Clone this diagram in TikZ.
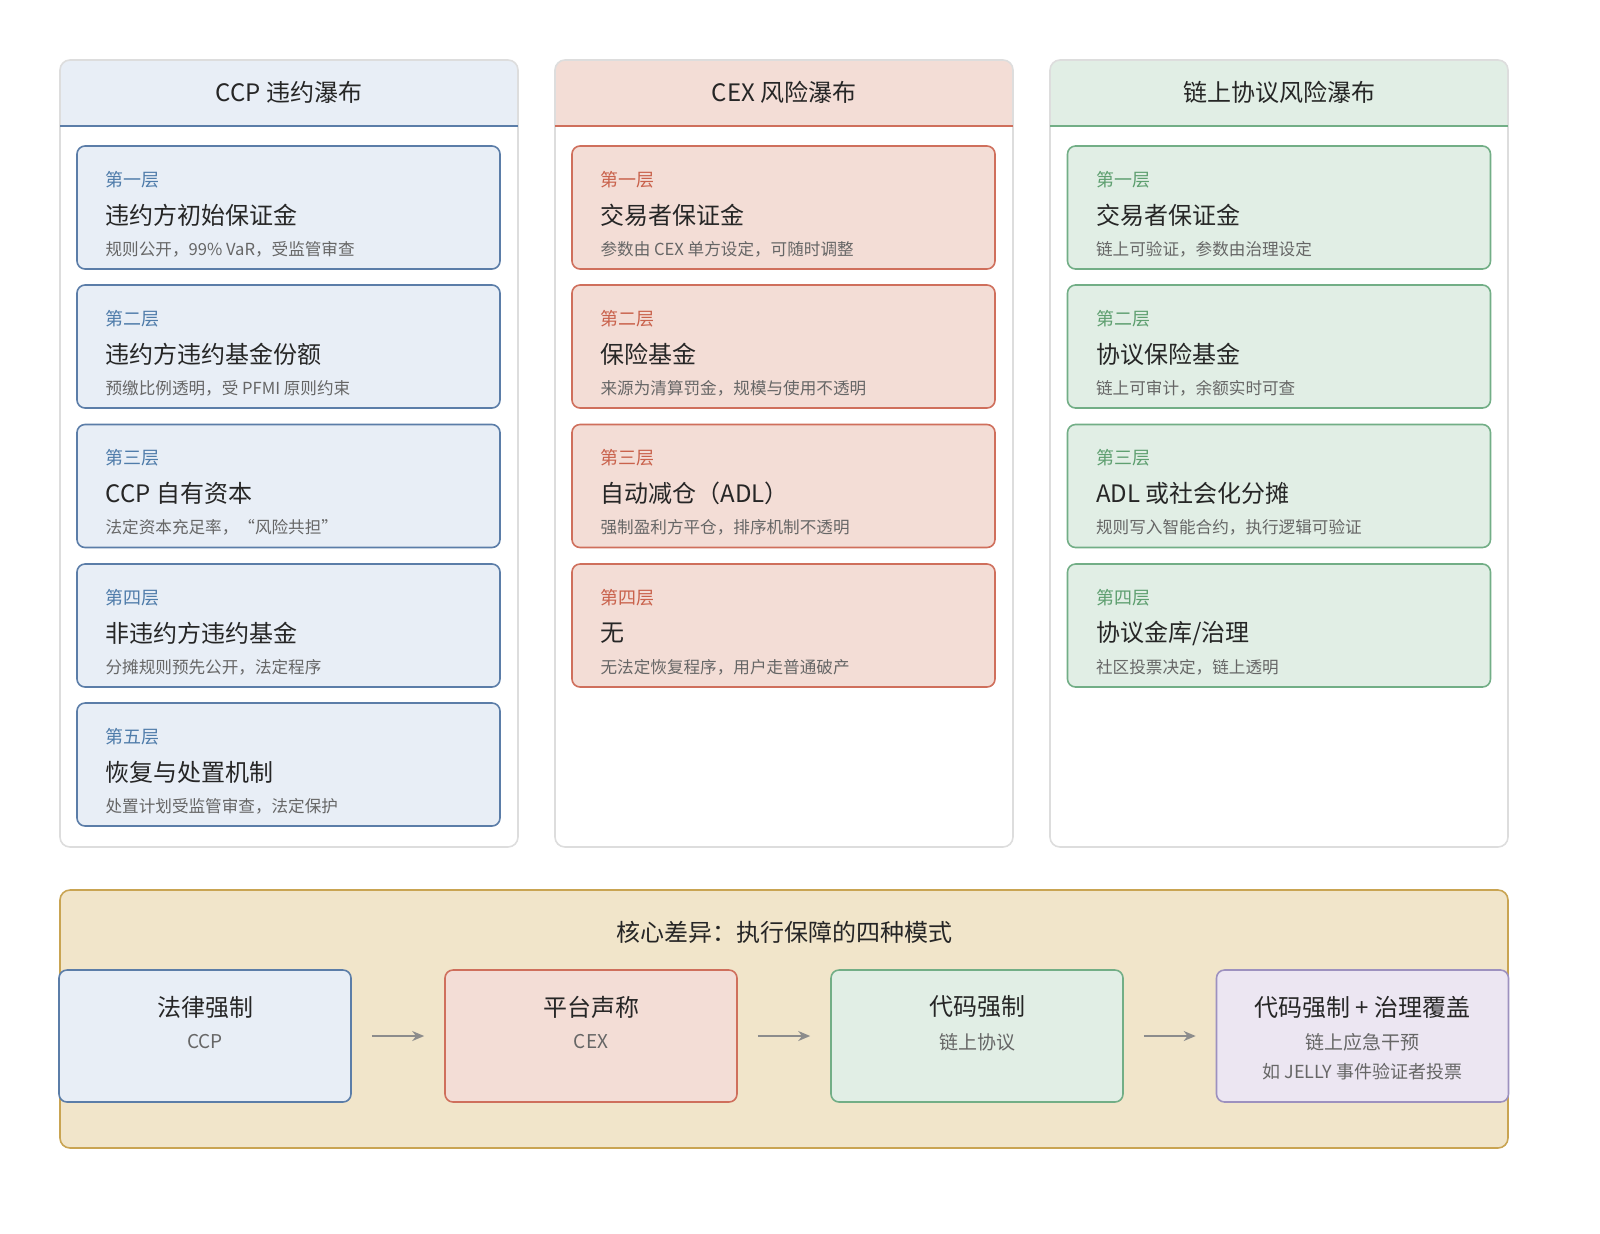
\documentclass[tikz,border=0pt]{standalone}
\usepackage{fontspec}
\setmainfont{Noto Sans CJK SC}
\usetikzlibrary{positioning,arrows.meta}
\definecolor{bluefill}{HTML}{E8EEF6}
\definecolor{blueline}{HTML}{5B7DA8}
\definecolor{bluetext}{HTML}{4F7CAA}
\definecolor{redfill}{HTML}{F3DDD6}
\definecolor{redline}{HTML}{CF6F5C}
\definecolor{redtext}{HTML}{C9624C}
\definecolor{greenfill}{HTML}{E1EEE5}
\definecolor{greenline}{HTML}{72AE86}
\definecolor{greentext}{HTML}{5E9F70}
\definecolor{purplefill}{HTML}{ECE6F2}
\definecolor{purpleline}{HTML}{9D91BF}
\definecolor{goldfill}{HTML}{F1E5CA}
\definecolor{goldline}{HTML}{C9A452}
\definecolor{desctext}{HTML}{666666}
\definecolor{colline}{HTML}{DDDDDD}
\tikzset{
  card/.style = {draw, line width=0.8pt, rounded corners=4pt, minimum width=211.5pt, minimum height=61.5pt, inner sep=0pt},
  layer/.style = {anchor=west, font=\fontsize{9}{11}\selectfont, inner sep=0pt},
  title/.style = {anchor=west, font=\fontsize{12}{14}\selectfont, text=black!85, inner sep=0pt},
  desc/.style = {anchor=west, font=\fontsize{8.3}{10}\selectfont, text=desctext, inner sep=0pt},
  head/.style = {font=\fontsize{12}{14}\selectfont, text=black!85},
  mode/.style = {draw, line width=0.8pt, rounded corners=4pt, minimum width=146pt, minimum height=66pt, inner sep=0pt},
  flow/.style = {-{Stealth[length=6pt,width=5pt]}, line width=1pt, draw=black!45}
}
\newcommand{\layercard}[7]{% name, x, y, colour, layer, title, desc
  \node[card, draw=#4line, fill=#4fill] (#1) at (#2,#3) {};
  \node[layer, text=#4text] (#1l) at ([xshift=14.5pt,yshift=-17pt]#1.north west) {#5};
  \node[title] (#1t) at ([xshift=14.5pt,yshift=-35pt]#1.north west) {#6};
  \node[desc] (#1d) at ([xshift=14.5pt,yshift=-52pt]#1.north west) {#7};
}
\newcommand{\column}[4]{% left x, colour, header, name
  \fill[#2fill, rounded corners=5pt] (#1,60) rectangle ++(458,66);
  \fill[#2fill] (#1,100) rectangle ++(458,26);
  \draw[colline, line width=0.8pt, rounded corners=5pt] (#1,60) rectangle ++(458,787);
  \draw[#2line, line width=0.8pt] (#1,126) -- ++(458,0);
  \node[head] (#4) at (#1+229,92) {#3};
}
\begin{document}
\begin{tikzpicture}[x=0.5pt,y=-0.5pt]
\useasboundingbox (0,0) rectangle (1600,1233);

\column{60}{blue}{CCP 违约瀑布}{hccp}
\column{555}{red}{CEX 风险瀑布}{hcex}
\column{1050}{green}{链上协议风险瀑布}{hchain}

% CCP
\layercard{b1}{288.5}{207.5}{blue}{第一层}{违约方初始保证金}{规则公开，99\% VaR，受监管审查}
\layercard{b2}{288.5}{346.5}{blue}{第二层}{违约方违约基金份额}{预缴比例透明，受 PFMI 原则约束}
\layercard{b3}{288.5}{486}{blue}{第三层}{CCP 自有资本}{法定资本充足率，“风险共担”}
\layercard{b4}{288.5}{625.5}{blue}{第四层}{非违约方违约基金}{分摊规则预先公开，法定程序}
\layercard{b5}{288.5}{764.5}{blue}{第五层}{恢复与处置机制}{处置计划受监管审查，法定保护}

% CEX
\layercard{r1}{783.5}{207.5}{red}{第一层}{交易者保证金}{参数由 CEX 单方设定，可随时调整}
\layercard{r2}{783.5}{346.5}{red}{第二层}{保险基金}{来源为清算罚金，规模与使用不透明}
\layercard{r3}{783.5}{486}{red}{第三层}{自动减仓（ADL）}{强制盈利方平仓，排序机制不透明}
\layercard{r4}{783.5}{625.5}{red}{第四层}{无}{无法定恢复程序，用户走普通破产}

% chain
\layercard{g1}{1279}{207.5}{green}{第一层}{交易者保证金}{链上可验证，参数由治理设定}
\layercard{g2}{1279}{346.5}{green}{第二层}{协议保险基金}{链上可审计，余额实时可查}
\layercard{g3}{1279}{486}{green}{第三层}{ADL 或社会化分摊}{规则写入智能合约，执行逻辑可验证}
\layercard{g4}{1279}{625.5}{green}{第四层}{协议金库/治理}{社区投票决定，链上透明}

% bottom panel
\draw[goldline, fill=goldfill, line width=0.8pt, rounded corners=5pt] (60,890) rectangle (1508,1148);
\node[head] (core) at (784,932) {核心差异：执行保障的四种模式};

\node[mode, draw=blueline, fill=bluefill] (m1) at (205,1036) {};
\node[mode, draw=redline, fill=redfill] (m2) at (591,1036) {};
\node[mode, draw=greenline, fill=greenfill] (m3) at (977,1036) {};
\node[mode, draw=purpleline, fill=purplefill] (m4) at (1362.5,1036) {};

\node[head] at (205,1007) {法律强制};
\node[desc, anchor=center, font=\fontsize{9.5}{11}\selectfont] at (205,1042) {CCP};
\node[head] at (591,1007) {平台声称};
\node[desc, anchor=center, font=\fontsize{9.5}{11}\selectfont] at (591,1042) {CEX};
\node[head] at (977,1007) {代码强制};
\node[desc, anchor=center, font=\fontsize{9.5}{11}\selectfont] at (977,1042) {链上协议};
\node[head] at (1362.5,1007) {代码强制 + 治理覆盖};
\node[desc, anchor=center, font=\fontsize{9.5}{11}\selectfont] at (1362.5,1042) {链上应急干预};
\node[desc, anchor=center, font=\fontsize{9}{11}\selectfont] at (1362.5,1072) {如 JELLY 事件验证者投票};

\draw[flow] ([xshift=10pt]m1.east) -- ([xshift=-10pt]m2.west);
\draw[flow] ([xshift=10pt]m2.east) -- ([xshift=-10pt]m3.west);
\draw[flow] ([xshift=10pt]m3.east) -- ([xshift=-10pt]m4.west);
\end{tikzpicture}
\end{document}
